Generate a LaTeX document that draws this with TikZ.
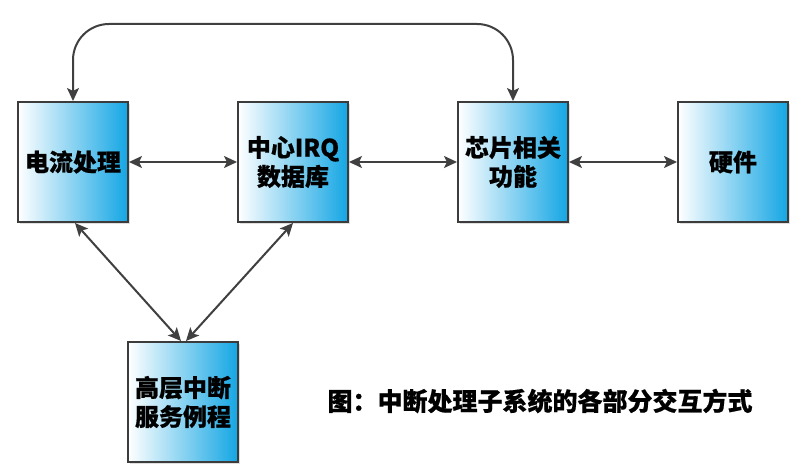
\documentclass[tikz,border=0pt]{standalone}
\usepackage{fontspec}
\newfontfamily\cjk{Noto Sans CJK SC}[BoldFeatures={FakeBold=0.6}]
\usetikzlibrary{arrows.meta,shadows}
\definecolor{boxblue}{RGB}{20,166,228}
\definecolor{edgegray}{RGB}{60,60,60}
\definecolor{arrowgray}{RGB}{64,64,64}
\tikzset{
  blockbox/.style={rectangle, draw=edgegray, line width=2pt,
    left color=white, right color=boxblue,
    minimum width=110pt, minimum height=120pt, inner sep=0pt,
    align=center, font=\cjk\bfseries\fontsize{24}{29}\selectfont,
    drop shadow={opacity=0.25, shadow xshift=2pt, shadow yshift=-2pt}},
  link/.style={draw=arrowgray, line width=2pt,
    {Stealth[length=13pt,width=12pt,inset=3pt]}-{Stealth[length=13pt,width=12pt,inset=3pt]}},
  captiontext/.style={font=\cjk\bfseries\fontsize{25}{28}\selectfont}
}
\begin{document}
\begin{tikzpicture}[x=1pt,y=-1pt]
\useasboundingbox[fill=white] (0,0) rectangle (804,473);
\node[blockbox] (a) at (73,162) {电流处理};
\node[blockbox] (b) at (293,162) {中心IRQ\\数据库};
\node[blockbox] (c) at (513,162) {芯片相关\\功能};
\node[blockbox] (d) at (733,162) {硬件};
\node[blockbox] (e) at (183,402) {高层中断\\服务例程};
\node[captiontext] (cap) at (540,401) {图：中断处理子系统的各部分交互方式};
\draw[link] (a.east) -- (b.west);
\draw[link] (b.east) -- (c.west);
\draw[link] (c.east) -- (d.west);
\draw[link] ([xshift=2pt]a.south) -- ([xshift=-2pt]e.north);
\draw[link] (b.south) -- ([xshift=3pt]e.north);
\draw[link, rounded corners=36pt] (a.north) -- (a.north |- 0,24) -- (c.north |- 0,24) -- (c.north);
\end{tikzpicture}
\end{document}
